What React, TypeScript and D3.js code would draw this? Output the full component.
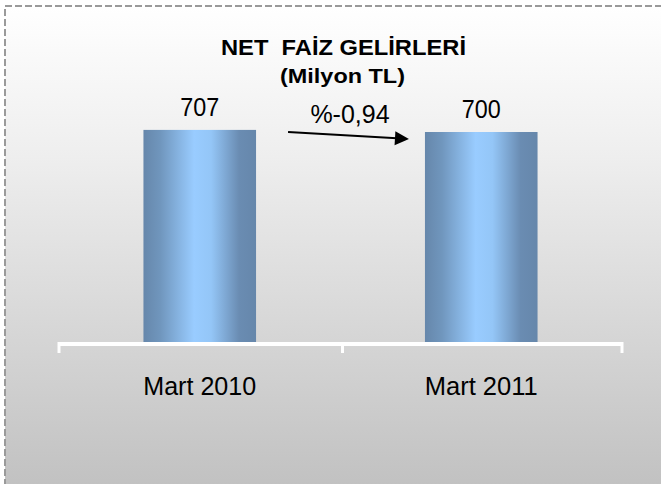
import React from "react";
import * as d3 from "d3";

const categories: string[] = ["Mart 2010", "Mart 2011"];
const values: number[] = [707, 700];
const valueLabels: string[] = ["707", "700"];
const titleLines: string[] = ["NET  FAİZ GELİRLERİ", "(Milyon TL)"];
const changeLabel = "%-0,94";

const W = 661;
const H = 484;

export default function App() {
  const x = d3.scaleBand<string>().domain(categories).range([59, 622]).padding(0);
  const y = d3.scaleLinear().domain([0, 800]).range([342, 102]);
  const barW = x.bandwidth() * 0.4;
  const cx = (c: string) => (x(c) as number) + x.bandwidth() / 2;
  const font = "'Liberation Sans', Arial, sans-serif";

  const x0 = cx(categories[0]) + barW / 2 + 32;
  const x1 = cx(categories[1]) - barW / 2 - 16;
  const ya = y(values[0]) + 2;
  const yb = y(values[1]) + 7;
  const ang = Math.atan2(yb - ya, x1 - x0);

  return (
    <>
      <style>{"body{margin:0}"}</style>
      <svg width={W} height={H} style={{ display: "block", fontFamily: font }}>
        <defs>
          <linearGradient id="bg" x1="0" y1="0" x2="0" y2="1">
            <stop offset="0" stopColor="#ffffff" />
            <stop offset="0.3" stopColor="#eeeeee" />
            <stop offset="1" stopColor="#bebebe" />
          </linearGradient>
          <linearGradient id="bar" x1="0" y1="0" x2="1" y2="0">
            <stop offset="0" stopColor="#6687ab" />
            <stop offset="0.15" stopColor="#7096bd" />
            <stop offset="0.45" stopColor="#99ccff" />
            <stop offset="0.6" stopColor="#94c6f7" />
            <stop offset="0.85" stopColor="#6a8cb2" />
            <stop offset="1" stopColor="#6687ab" />
          </linearGradient>
        </defs>
        <rect x={0} y={0} width={W} height={H} fill="#ffffff" />
        <rect x={5} y={6} width={W + 20} height={H + 20} fill="url(#bg)" />
        <rect
          x={5}
          y={6}
          width={W + 20}
          height={H + 20}
          fill="none"
          stroke="#9a9a9a"
          strokeWidth={2}
          strokeDasharray="7 3"
        />

        {/* Title */}
        <text x={343.5} y={55} textAnchor="middle" fontWeight="bold" fontSize={21.5}
          textLength={245} lengthAdjust="spacingAndGlyphs" fill="#000" style={{ whiteSpace: "pre" }}>
          {titleLines[0]}
        </text>
        <text x={342.5} y={83} textAnchor="middle" fontWeight="bold" fontSize={20.5}
          textLength={125} lengthAdjust="spacingAndGlyphs" fill="#000">
          {titleLines[1]}
        </text>

        {/* Bars */}
        {categories.map((c, i) => (
          <rect
            key={c}
            x={cx(c) - barW / 2}
            y={y(values[i])}
            width={barW}
            height={y(0) - y(values[i])}
            fill="url(#bar)"
          />
        ))}

        {/* Value labels */}
        {categories.map((c, i) => (
          <text key={c} x={cx(c)} y={y(values[i]) - 14} textAnchor="middle" fontSize={26}
            textLength={39} lengthAdjust="spacingAndGlyphs" fill="#000">
            {valueLabels[i]}
          </text>
        ))}

        {/* Change arrow */}
        <text x={350} y={123} textAnchor="middle" fontSize={25} fill="#000">
          {changeLabel}
        </text>
        <line x1={x0} y1={ya} x2={x1 - 12} y2={yb - 12 * Math.sin(ang)} stroke="#000" strokeWidth={2} />
        <path
          d={`M${x1},${yb} L${x1 - 14},${yb - 7} L${x1 - 14},${yb + 7} Z`}
          transform={`rotate(${(ang * 180) / Math.PI} ${x1} ${yb})`}
          fill="#000"
        />

        {/* Axis */}
        <line x1={58} x2={623} y1={344} y2={344} stroke="#ffffff" strokeWidth={4} />
        {[59, 342.5, 622].map((t) => (
          <line key={t} x1={t} x2={t} y1={342} y2={353} stroke="#ffffff" strokeWidth={3} />
        ))}

        {/* Category labels */}
        {categories.map((c) => (
          <text key={c} x={cx(c)} y={395} textAnchor="middle" fontSize={26}
            textLength={113} lengthAdjust="spacingAndGlyphs" fill="#000">
            {c}
          </text>
        ))}
      </svg>
    </>
  );
}
